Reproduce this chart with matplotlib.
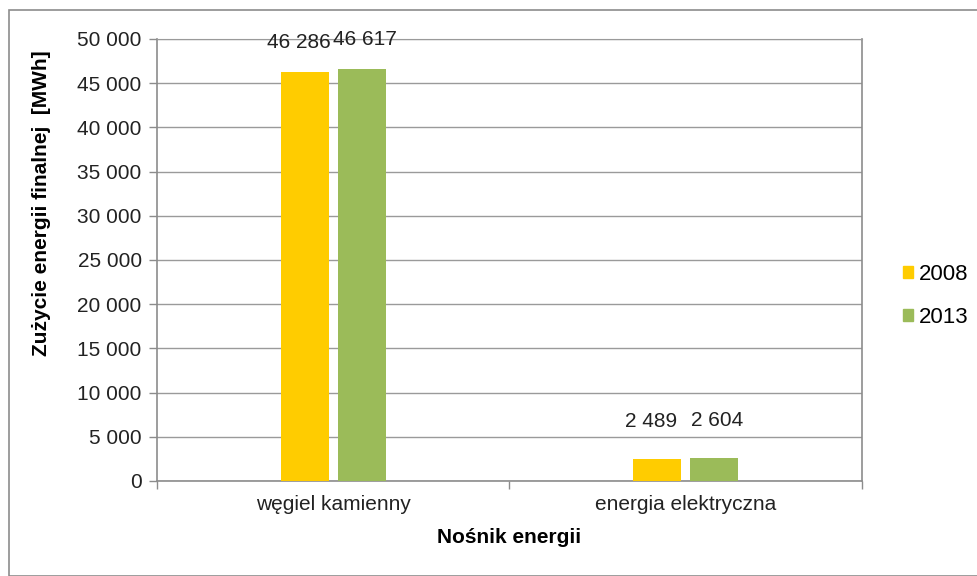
import matplotlib.pyplot as plt
import matplotlib.patches as mpatches
import numpy as np

# dane
kategorie = ["węgiel kamienny", "energia elektryczna"]
lata = ["2008", "2013"]
wartosci_2008 = [46286, 2489]
wartosci_2013 = [46617, 2604]
kolory = ["#FFCC00", "#9BBB59"]

plt.rcParams["font.family"] = ["Liberation Sans", "DejaVu Sans"]

def fmt(v):
    return f"{v:,.0f}".replace(",", " ")

fig = plt.figure(figsize=(9.78, 5.76), dpi=100)
ax = fig.add_axes([157/978, 1 - 481/576, (862-157)/978, (481-39)/576])

x = np.arange(len(kategorie))
szer = 0.137
przes = 0.081
slupki1 = ax.bar(x - przes, wartosci_2008, szer, color=kolory[0], label=lata[0], zorder=3)
slupki2 = ax.bar(x + przes, wartosci_2013, szer, color=kolory[1], label=lata[1], zorder=3)

# etykiety wartosci (przy wysokich slupkach Excel przesuwa je w dol)
odstepy = [14, 20]
for slupki, wart, dx in [(slupki1, wartosci_2008, -4.5), (slupki2, wartosci_2013, 2)]:
    for b, v, o in zip(slupki, wart, odstepy):
        ax.annotate(fmt(v), (b.get_x() + b.get_width() / 2, v), xytext=(dx, o),
                    textcoords="offset points", ha="center", va="bottom", fontsize=15, color="#222222")

ax.set_xlim(-0.5, 1.5)
ax.set_ylim(0, 50000)
ax.set_yticks(np.arange(0, 50001, 5000))
ax.set_yticklabels([fmt(v) for v in np.arange(0, 50001, 5000)], fontsize=15, color="#222222")
ax.yaxis.grid(True, color="#9a9a9a", linewidth=1, zorder=0)

# podzialki osi x na granicach kategorii
ax.set_xticks([-0.5, 0.5, 1.5])
ax.set_xticklabels([])
ax.set_xticks(x, minor=True)
ax.set_xticklabels(kategorie, minor=True, fontsize=15, color="#222222")
ax.tick_params(axis="x", which="minor", length=0, pad=10)
ax.tick_params(axis="x", which="major", length=6, color="#8c8c8c", width=1)
ax.tick_params(axis="y", length=6, color="#8c8c8c", width=1, pad=5)

for s in ["left", "bottom", "right"]:
    ax.spines[s].set_color("#8c8c8c")
    ax.spines[s].set_linewidth(1.2)
ax.spines["top"].set_color("#9a9a9a")

ax.set_xlabel("Nośnik energii", fontsize=15, fontweight="bold", labelpad=10)
ax.set_ylabel("Zużycie energii finalnej  [MWh]", fontsize=15, fontweight="bold", va="center")
ax.yaxis.set_label_coords(42/978, 1 - 203/576, transform=fig.transFigure)

uchwyty = [mpatches.Patch(color=k, label=l) for k, l in zip(kolory, lata)]
fig.legend(handles=uchwyty, loc="center left", bbox_to_anchor=(903/978, 1 - 296/576),
           frameon=False, fontsize=16, handlelength=0.45, handleheight=0.45,
           handletextpad=0.25, labelspacing=1.0, borderaxespad=0, borderpad=0)

# ramka wykresu
fig.patches.append(mpatches.Rectangle((9/978, 0), 1.2, 1 - 10/576, transform=fig.transFigure,
                                      fill=False, edgecolor="#8c8c8c", linewidth=1.2))

fig.savefig("out.png", dpi=100)
